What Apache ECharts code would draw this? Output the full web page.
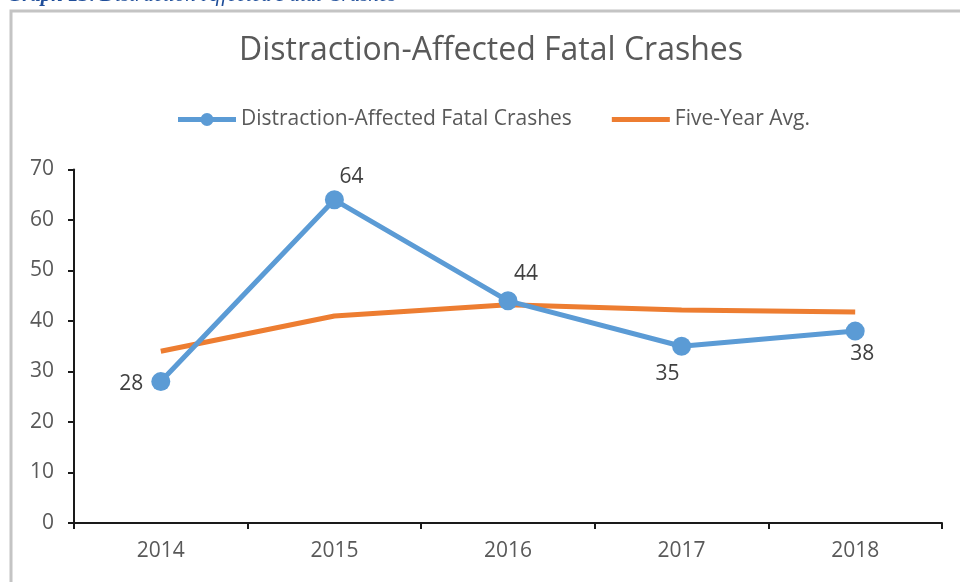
<!DOCTYPE html>
<html><head><meta charset="utf-8">
<script src="https://cdn.jsdelivr.net/npm/echarts@6/dist/echarts.min.js"></script>
<style>html,body{margin:0;padding:0;background:#fff;}#c{width:960px;height:582px;}</style>
</head><body><div id="c"></div>
<script>
var categories = ['2014', '2015', '2016', '2017', '2018'];
var crashes = [28, 64, 44, 35, 38];
var fiveYearAvg = [34, 41, 43.2, 42.2, 41.8];
var yTicks = [0, 10, 20, 30, 40, 50, 60, 70];

var labelPos = [
  {position: 'left', offset: [-2, 2]},
  {position: 'top', offset: [17, 3]},
  {position: 'top', offset: [18, -1]},
  {position: 'bottom', offset: [-14, 2]},
  {position: 'bottom', offset: [7, -3]}
];

var chart = echarts.init(document.getElementById('c'));
chart.setOption({
  animation: false,
  backgroundColor: '#fff',
  graphic: [
    {type: 'rect', shape: {x: 11, y: 11, width: 960, height: 600}, style: {fill: 'none', stroke: '#c4c4c4', lineWidth: 3}},
    {type: 'text', left: 7, top: -15, style: {text: 'Graph 13:', font: 'italic bold 21px "Liberation Serif"', fill: '#1f4e9a'}},
    {type: 'text', left: 100, top: -15, style: {text: 'Distraction-Affected Fatal Crashes', font: 'italic 21px "Liberation Serif"', fill: '#1f4e9a'}}
  ],
  title: {
    text: 'Distraction-Affected Fatal Crashes',
    left: 486, top: 30, textAlign: 'center',
    textStyle: {fontFamily: 'Open Sans', fontSize: 32, fontWeight: 'normal', color: '#595959'}
  },
  legend: {
    top: 104, left: 173, itemGap: 40, itemWidth: 58, itemHeight: 16,
    textStyle: {fontFamily: 'Open Sans', fontSize: 21, color: '#595959'},
    data: [
      {name: 'Distraction-Affected Fatal Crashes',
       icon: 'path://M0,5.5 L23.5,5.5 L23.5,10.5 L0,10.5 Z M34.5,5.5 L58,5.5 L58,10.5 L34.5,10.5 Z M22.5,8 A6.5,6.5 0 1,1 35.5,8 A6.5,6.5 0 1,1 22.5,8 Z'},
      {name: 'Five-Year Avg.', icon: 'path://M0,0 L58,0 L58,5 L0,5 Z'}
    ]
  },
  grid: {left: 74, right: 18, top: 169.5, bottom: 59},
  xAxis: {
    type: 'category', data: categories, boundaryGap: true,
    axisLine: {lineStyle: {color: '#1a1a1a', width: 2}},
    axisTick: {show: true, length: 6, lineStyle: {color: '#1a1a1a', width: 2}},
    axisLabel: {fontFamily: 'Open Sans', fontSize: 21, color: '#595959', margin: 18}
  },
  yAxis: {
    type: 'value', min: 0, max: 70, interval: 10,
    axisLine: {show: true, lineStyle: {color: '#1a1a1a', width: 2}},
    axisTick: {show: true, length: 6, lineStyle: {color: '#1a1a1a', width: 2}},
    splitLine: {show: false},
    axisLabel: {fontFamily: 'Open Sans', fontSize: 21, color: '#595959', margin: 20,
      formatter: function (v) { return yTicks.indexOf(v) >= 0 ? String(v) : ''; }}
  },
  series: [
    {
      name: 'Distraction-Affected Fatal Crashes', type: 'line',
      data: crashes.map(function (v, i) { return {value: v, label: labelPos[i]}; }),
      symbol: 'circle', symbolSize: 19, z: 3,
      lineStyle: {color: '#5b9bd5', width: 5},
      itemStyle: {color: '#5b9bd5'},
      label: {show: true, fontFamily: 'Open Sans', fontSize: 21, color: '#404040', distance: 6}
    },
    {
      name: 'Five-Year Avg.', type: 'line', data: fiveYearAvg,
      symbol: 'none', z: 2,
      lineStyle: {color: '#ed7d31', width: 5},
      itemStyle: {color: '#ed7d31'}
    }
  ]
});
</script></body></html>
